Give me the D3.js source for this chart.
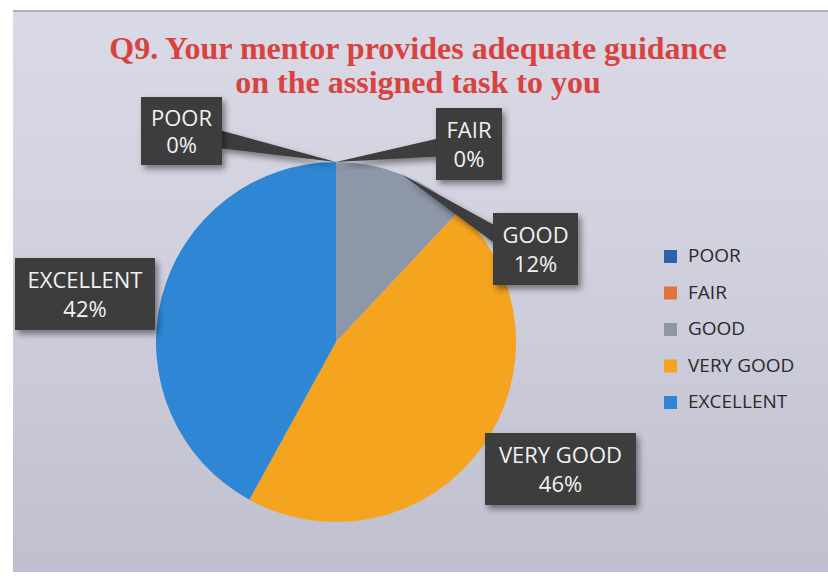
<!DOCTYPE html>
<html><head><meta charset="utf-8">
<script src="https://cdn.jsdelivr.net/npm/d3@7"></script>
<style>body{margin:0;background:#fff}svg{display:block}</style>
</head><body>
<svg id="c" width="828" height="579"></svg>
<script>
const categories = ["POOR", "FAIR", "GOOD", "VERY GOOD", "EXCELLENT"];
const values = [0, 0, 12, 46, 42];
const colors = ["#2f62ad", "#e2733d", "#8d97a8", "#f5a41f", "#2e86d4"];
const titleLines = ["Q9. Your mentor provides adequate guidance", "on the assigned task to you"];

const svg = d3.select("#c");
const defs = svg.append("defs");
const bg = defs.append("linearGradient").attr("id","bg").attr("x1",0).attr("y1",0).attr("x2",0).attr("y2",1);
bg.append("stop").attr("offset","0%").attr("stop-color","#dadae6");
bg.append("stop").attr("offset","35%").attr("stop-color","#d3d3e0");
bg.append("stop").attr("offset","100%").attr("stop-color","#bfbfcf");
const sh = defs.append("filter").attr("id","sh").attr("x","-20%").attr("y","-20%").attr("width","150%").attr("height","150%");
sh.append("feDropShadow").attr("dx",3).attr("dy",4).attr("stdDeviation",3).attr("flood-color","#000").attr("flood-opacity",0.45);

svg.append("rect").attr("x",13).attr("y",11).attr("width",815).attr("height",561).attr("fill","url(#bg)");
svg.append("line").attr("x1",13).attr("x2",828).attr("y1",11).attr("y2",11).attr("stroke","#9a9aa6").attr("stroke-width",1.5);

// title
svg.append("g").selectAll("text").data(titleLines).join("text")
  .attr("x", 418).attr("y", (d,i)=>59 + i*34)
  .attr("text-anchor","middle")
  .attr("font-family","'Liberation Serif','Times New Roman',serif")
  .attr("font-weight","bold").attr("font-size",32)
  .attr("fill","#d8423f")
  .text(d=>d);

const cx = 336, cy = 342, r = 180;
const pie = d3.pie().sort(null).value(d=>d.v).startAngle(0).endAngle(2*Math.PI);
const data = categories.map((c,i)=>({c, v: values[i], col: colors[i]}));
const arcs = pie(data);
const arc = d3.arc().innerRadius(0).outerRadius(r);
const g = svg.append("g").attr("transform",`translate(${cx},${cy})`);
g.selectAll("path").data(arcs.filter(a=>a.data.v>0)).join("path")
  .attr("d", arc).attr("fill", d=>d.data.col);

// label boxes (offsets relative to pie center)
const boxes = {
  "POOR":      {x:-195, y:-245, w:81,  h:68, side:"right", ly:0.62},
  "FAIR":      {x:100,  y:-234, w:66,  h:72, side:"left",  ly:0.55},
  "GOOD":      {x:157,  y:-129, w:85,  h:72, side:"left",  ly:0.3},
  "EXCELLENT": {x:-321, y:-84,  w:140, h:72, side:"none"},
  "VERY GOOD": {x:149,  y:91,   w:151, h:72, side:"none"}
};
const lg = svg.append("g").attr("transform",`translate(${cx},${cy})`);
arcs.forEach(a=>{
  const b = boxes[a.data.c];
  const mid = (a.startAngle + a.endAngle)/2;
  const ax = Math.sin(mid)*r, ay = -Math.cos(mid)*r;
  if (b.side !== "none") {
    const ex = b.side === "right" ? b.x + b.w - 2 : b.x + 2;
    const y1 = b.y + b.h*b.ly - 9, y2 = b.y + b.h*b.ly + 9;
    lg.append("path").attr("d", `M${ax},${ay}L${ex},${y1}L${ex},${y2}Z`)
      .attr("fill","#3c3c3e").attr("filter","url(#sh)");
  }
});
arcs.forEach(a=>{
  const b = boxes[a.data.c];
  const bg2 = lg.append("g");
  bg2.append("rect").attr("x",b.x).attr("y",b.y).attr("width",b.w).attr("height",b.h)
    .attr("fill","#3c3c3e").attr("filter","url(#sh)");
  bg2.append("text").attr("x",b.x+b.w/2).attr("y",b.y+b.h*0.34)
    .attr("text-anchor","middle").attr("dominant-baseline","middle")
    .attr("font-family","'Open Sans','Noto Sans',sans-serif").attr("font-size",22)
    .attr("fill","#f2f2f2").text(a.data.c);
  bg2.append("text").attr("x",b.x+b.w/2).attr("y",b.y+b.h*0.74)
    .attr("text-anchor","middle").attr("dominant-baseline","middle")
    .attr("font-family","'Open Sans','Noto Sans',sans-serif").attr("font-size",22)
    .attr("fill","#f2f2f2").text(a.data.v + "%");
});

// legend
const leg = svg.append("g").attr("transform","translate(664,257)");
const li = leg.selectAll("g").data(data).join("g").attr("transform",(d,i)=>`translate(0,${i*36.5})`);
li.append("rect").attr("x",0).attr("y",-7).attr("width",13).attr("height",13).attr("fill",d=>d.col);
li.append("text").attr("x",24).attr("y",0).attr("dominant-baseline","middle")
  .attr("font-family","'Open Sans','Noto Sans',sans-serif").attr("font-size",19)
  .attr("fill","#2a2a2a").text(d=>d.c);
</script>
</body></html>
